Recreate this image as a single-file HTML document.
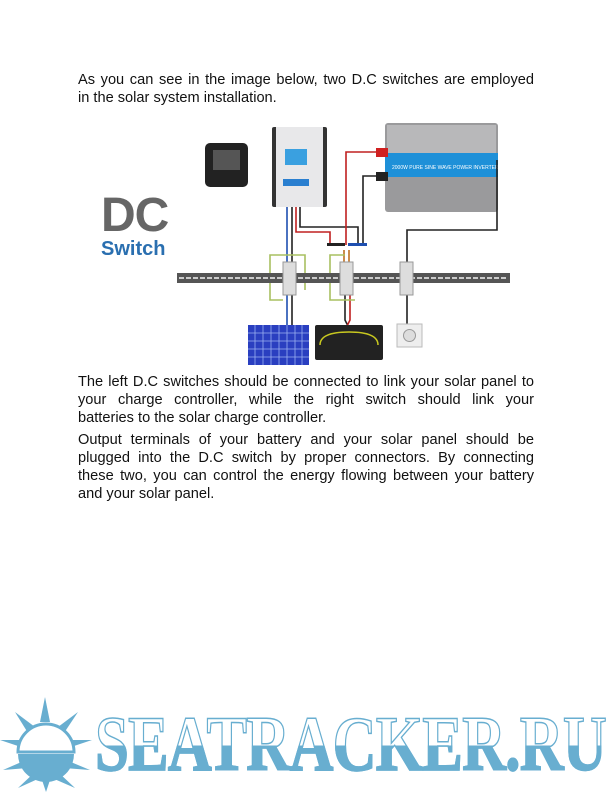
<!DOCTYPE html>
<html><head><meta charset="utf-8"><style>
body{margin:0;background:#fff;width:612px;height:792px;position:relative;overflow:hidden;font-family:"Liberation Sans",sans-serif;}
p{position:absolute;left:78px;width:456px;margin:0;font-size:14.6px;line-height:18px;color:#111;}
p span{display:block;white-space:nowrap;text-align:justify;text-align-last:justify;}
p span.l{text-align-last:left;}
.logo{position:absolute;left:95px;top:705px;font-family:"Liberation Serif",serif;font-weight:bold;font-size:78px;letter-spacing:-1px;line-height:78px;white-space:nowrap;
background:linear-gradient(#fff 0,#fff 52%,#68aed0 52%);-webkit-background-clip:text;background-clip:text;color:transparent;-webkit-text-stroke:1.5px #68aed0;transform:scaleX(0.78);transform-origin:left;}
</style></head><body>
<p style="top:71px"><span>As you can see in the image below, two D.C switches are employed</span><span class="l">in the solar system installation.</span></p>
<svg style="position:absolute;left:0;top:0" width="612" height="792">
<text x="101" y="231" font-family="Liberation Sans" font-weight="bold" font-size="48" fill="#666" letter-spacing="-1">DC</text>
<text x="101" y="255" font-family="Liberation Sans" font-weight="bold" font-size="20" fill="#2a6fb0">Switch</text>
<rect x="205" y="143" width="43" height="44" rx="5" fill="#222"/>
<rect x="213" y="150" width="27" height="20" fill="#555"/>
<rect x="272" y="127" width="55" height="80" rx="2" fill="#333"/>
<rect x="276" y="127" width="47" height="80" fill="#e8e8ea"/>
<rect x="285" y="149" width="22" height="16" fill="#3aa0e0"/>
<rect x="283" y="179" width="26" height="7" fill="#2a7fd0"/>
<rect x="385" y="123" width="113" height="89" rx="3" fill="#9a9a9c"/>
<rect x="387" y="125" width="109" height="28" fill="#b8b8ba"/>
<rect x="385" y="153" width="113" height="24" fill="#1e90d8"/>
<text x="392" y="169" font-size="5" fill="#fff" font-family="Liberation Sans">2000W  PURE SINE WAVE POWER INVERTER</text>
<rect x="376" y="148" width="12" height="9" fill="#d02020"/>
<rect x="376" y="172" width="12" height="9" fill="#222"/>
<g fill="none" stroke-width="1.6">
<path d="M287 207V325" stroke="#1e4fb0"/>
<path d="M292 207V325" stroke="#222"/>
<path d="M296 207V232H330V243" stroke="#c02020"/>
<path d="M300 207V227H358V245" stroke="#222"/>
<path d="M376 152H346V245" stroke="#c02020"/>
<path d="M376 176H363V245" stroke="#222"/>
<path d="M497 160V230H407V262" stroke="#222"/>
<path d="M344 250V262M349 250V262" stroke="#c07020"/>
<path d="M345 295V320L350 330" stroke="#222"/>
<path d="M350 295V320L345 330" stroke="#c02020"/>
<path d="M407 295V325" stroke="#222"/>
<path d="M270 268V255H305V290M270 268V300H283" stroke="#a8c060"/>
<path d="M330 268V255H345M330 268V300H355" stroke="#a8c060"/>
</g>
<rect x="327" y="243" width="18" height="3" fill="#222"/>
<rect x="348" y="243" width="19" height="3" fill="#1e4fb0"/>
<rect x="177" y="273" width="333" height="10" fill="#555"/>
<line x1="179" y1="278" x2="508" y2="278" stroke="#ccc" stroke-width="2" stroke-dasharray="5 2"/>
<rect x="283" y="262" width="13" height="33" fill="#ddd" stroke="#999"/>
<rect x="340" y="262" width="13" height="33" fill="#ddd" stroke="#999"/>
<rect x="400" y="262" width="13" height="33" fill="#ddd" stroke="#999"/>
<rect x="248" y="325" width="61" height="40" fill="#2a3fc0"/>
<path d="M248 333H309M248 341H309M248 349H309M248 357H309M255 325V365M263 325V365M271 325V365M279 325V365M287 325V365M295 325V365M302 325V365" stroke="#9ab0f0" stroke-width="0.8"/>
<rect x="315" y="325" width="68" height="35" rx="2" fill="#222"/>
<path d="M320 345Q320 332 349 332Q378 332 378 345" stroke="#c8c820" fill="none" stroke-width="1.5"/>
<rect x="397" y="324" width="25" height="23" fill="#eee" stroke="#bbb"/>
<circle cx="409.5" cy="335.5" r="6" fill="#ddd" stroke="#999"/>
<g fill="#68aed0">
<polygon points="45,697 50,722 40,722"/>
<polygon points="15,712 35,727 28,733"/>
<polygon points="78,712 58,727 64,733"/>
<polygon points="0,740 26,740 24,748"/>
<polygon points="92,740 66,740 68,748"/>
<polygon points="3,770 26,760 28,768"/>
<polygon points="90,770 66,760 64,768"/>
<polygon points="18,788 35,772 40,778"/>
<polygon points="75,788 58,772 52,778"/>
<polygon points="46,792 42,780 50,780"/>
<path d="M18 752A28 28 0 0 1 74 752Z" fill="#fff" stroke="#68aed0" stroke-width="3"/>
<path d="M18 754A28 28 0 0 0 74 754Z"/>
</g>
</svg>
<p style="top:373px"><span>The left D.C switches should be connected to link your solar panel to</span><span>your charge controller, while the right switch should link your</span><span class="l">batteries to the solar charge controller.</span></p>
<p style="top:431px"><span>Output terminals of your battery and your solar panel should be</span><span>plugged into the D.C switch by proper connectors. By connecting</span><span>these two, you can control the energy flowing between your battery</span><span class="l">and your solar panel.</span></p>
<div class="logo">SEATRACKER.RU</div>
</body></html>
